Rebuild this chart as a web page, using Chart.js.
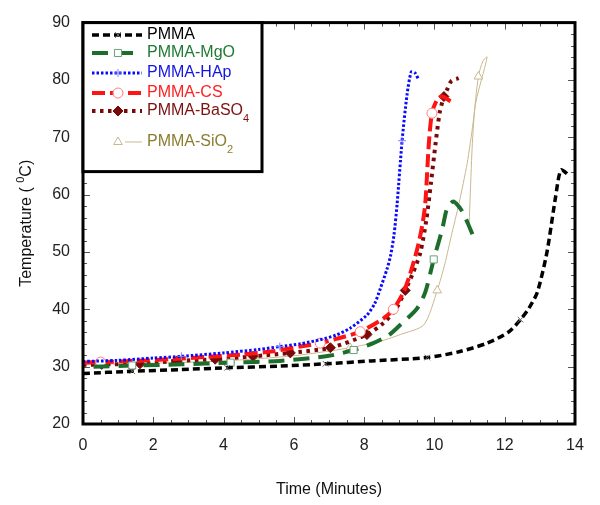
<!DOCTYPE html>
<html>
<head>
<meta charset="utf-8">
<script src="https://cdn.jsdelivr.net/npm/chart.js@4.4.0/dist/chart.umd.min.js"></script>
<style>html,body{margin:0;padding:0;background:#fff;}</style>
</head>
<body>
<canvas id="myChart" width="600" height="505"></canvas>
<script>
// data (time in minutes, temperature in C)
var pmmaX = [0, 1.4, 2.8, 4.1, 5.6, 6.9, 8.2, 9.8, 10.7, 11.5, 12.1, 12.45, 12.7, 12.93, 13.2, 13.45, 13.6, 13.82];
var pmmaY = [28.8, 29.2, 29.5, 29.8, 30.1, 30.5, 31.0, 31.6, 32.6, 34.1, 36.0, 38.2, 40.3, 43.0, 49.9, 59.7, 64.3, 63.4];
var pmmaMarks = [1.4, 4.1, 6.9, 9.8, 12.45];

var mgoX = [0.3, 1.4, 2.8, 4.2, 5.6, 7.0, 7.7, 8.26, 8.7, 9.03, 9.5, 9.74, 9.98, 10.22, 10.36, 10.54, 10.79, 10.95, 11.1];
var mgoY = [30.0, 30.2, 30.4, 30.7, 31.0, 31.9, 32.9, 34.1, 35.5, 37.3, 40.1, 43.0, 48.7, 53.9, 57.6, 58.8, 57.1, 55.0, 52.8];
var mgoMarks = [1.4, 4.2, 7.7, 9.98];

var hapX = [0, 1, 2, 2.8, 4, 5, 5.6, 6.2, 6.75, 7.2, 7.6, 8.08, 8.3, 8.46, 8.65, 8.75, 8.85, 8.94, 9.08, 9.22, 9.34, 9.45, 9.55];
var hapY = [30.9, 31.1, 31.5, 31.8, 32.4, 33.0, 33.5, 34.0, 34.7, 35.5, 36.7, 39.0, 41.0, 43.6, 47.0, 49.3, 53.0, 58.5, 69.4, 77.4, 81.4, 81.2, 80.0];
var hapMarks = [2.8, 5.6, 9.08];

var csX = [0, 0.5, 1.5, 2.5, 3.5, 4.5, 5.42, 6.18, 6.75, 7.3, 7.89, 8.55, 8.83, 9.12, 9.3, 9.51, 9.65, 9.74, 9.84, 9.93, 10.08, 10.22, 10.46];
var csY = [30.7, 30.8, 31.0, 31.3, 31.7, 32.1, 32.7, 33.5, 34.1, 35.0, 36.1, 38.4, 40.0, 43.0, 46.0, 50.5, 54.5, 58.5, 68.8, 74.2, 76.6, 77.1, 76.3];
var csMarks = [0.5, 6.75, 7.89, 8.83, 9.93];

var basoX = [0, 0.53, 1.62, 2.67, 3.76, 4.84, 5.9, 7.04, 8.08, 8.55, 8.9, 9.17, 9.4, 9.6, 9.77, 9.9, 10.03, 10.15, 10.27, 10.36, 10.48, 10.69];
var basoY = [30.3, 30.4, 30.5, 31.0, 31.3, 31.8, 32.4, 33.3, 35.6, 37.6, 40.0, 43.3, 46.5, 49.9, 55.6, 62.0, 68.8, 74.3, 77.1, 78.3, 79.8, 80.3];
var basoMarks = [0.53, 1.62, 2.67, 3.76, 4.84, 5.9, 7.04, 8.08, 9.17, 10.27];

var sioX = [0, 0.5, 2, 4, 6, 7.6, 8.5, 9.03, 9.7, 10.08, 10.3, 10.48, 10.7, 10.93, 11.1, 11.25, 11.38, 11.5, 11.15, 10.98];
var sioY = [30.3, 30.4, 30.6, 31.0, 31.9, 33.3, 34.5, 35.6, 37.3, 43.3, 48.0, 52.8, 58.5, 65.4, 72.5, 80.6, 83.3, 84.0, 75.0, 54.0];
var sioMarks = [0.5, 7.6, 10.08, 11.25];

var xTicks = [0, 2, 4, 6, 8, 10, 12, 14];
var yTicks = [20, 30, 40, 50, 60, 70, 80, 90];

Chart.defaults.font.family = '"Liberation Sans", Arial, sans-serif';

function pts(xs, ys) {
    return xs.map(function (x, i) { return { x: x, y: ys[i] }; });
}
function marker(marks, r) {
    return function (ctx) {
        var p = ctx.raw;
        return p && marks.indexOf(p.x) >= 0 ? r : 0;
    };
}

// line look of each series, used by the chart and by the legend
var series = [
    { label: 'PMMA', sub: '', xs: pmmaX, ys: pmmaY, marks: pmmaMarks, color: '#000000', text: '#000000',
      width: 3.5, dash: [7, 4], point: 'crossRot', r: 4, pBorder: '#666666', pFill: '#666666', row: 35 },
    { label: 'PMMA-MgO', sub: '', xs: mgoX, ys: mgoY, marks: mgoMarks, color: '#1c6e2c', text: '#1f7a33',
      width: 4, dash: [16, 9], point: 'rect', r: 5, pBorder: '#6aa277', pFill: '#ffffff', row: 53 },
    { label: 'PMMA-HAp', sub: '', xs: hapX, ys: hapY, marks: hapMarks, color: '#0a0aff', text: '#1414e6',
      width: 3, dash: [2.5, 2], point: 'cross', r: 4, pBorder: '#8080ff', pFill: '#8080ff', row: 73 },
    { label: 'PMMA-CS', sub: '', xs: csX, ys: csY, marks: csMarks, color: '#ff1414', text: '#ff2020',
      width: 4, dash: [13, 5], point: 'circle', r: 5, pBorder: '#ff8080', pFill: '#ffffff', row: 93 },
    { label: 'PMMA-BaSO', sub: '4', xs: basoX, ys: basoY, marks: basoMarks, color: '#7a0a0a', text: '#7d1010',
      width: 4, dash: [3.5, 4.5], point: 'rectRot', r: 5, pBorder: '#7a0a0a', pFill: '#7a0a0a', row: 111 },
    { label: 'PMMA-SiO', sub: '2', xs: sioX, ys: sioY, marks: sioMarks, color: '#c9b98f', text: '#8c7d2e',
      width: 1, dash: [], point: 'triangle', r: 5, pBorder: '#c9b98f', pFill: '#ffffff', row: 142 }
];

var datasets = series.map(function (s) {
    return {
        label: s.label + s.sub,
        data: pts(s.xs, s.ys),
        showLine: true,
        borderColor: s.color,
        borderWidth: s.width,
        borderDash: s.dash,
        borderCapStyle: 'butt',
        tension: 0.25,
        fill: false,
        pointStyle: s.point,
        pointRadius: marker(s.marks, s.r),
        pointBorderColor: s.pBorder,
        pointBackgroundColor: s.pFill,
        pointBorderWidth: 1
    };
});

var frame = {
    id: 'frame',
    afterDraw: function (chart) {
        var c = chart.ctx, a = chart.chartArea, xs = chart.scales.x, ys = chart.scales.y;
        c.save();
        // inward tick marks
        c.strokeStyle = '#555';
        c.lineWidth = 1;
        c.setLineDash([]);
        c.beginPath();
        for (var t = 0; t <= 14.001; t += 0.5) {
            var px = Math.round(xs.getPixelForValue(t)) + 0.5;
            var L = (t % 2 === 0) ? 7 : 4;
            c.moveTo(px, a.bottom); c.lineTo(px, a.bottom - L);
            c.moveTo(px, a.top); c.lineTo(px, a.top + L);
        }
        for (var v = 20; v <= 90; v += 2) {
            var py = Math.round(ys.getPixelForValue(v)) + 0.5;
            var M = (v % 10 === 0) ? 7 : 4;
            c.moveTo(a.left, py); c.lineTo(a.left + M, py);
            c.moveTo(a.right, py); c.lineTo(a.right - M, py);
        }
        c.stroke();
        // heavy frame
        c.strokeStyle = '#000';
        c.lineWidth = 3;
        c.strokeRect(a.left, a.top, a.right - a.left, a.bottom - a.top);

        // axis titles
        c.fillStyle = '#111';
        c.font = '16px "Liberation Sans", Arial, sans-serif';
        c.textAlign = 'center';
        c.textBaseline = 'middle';
        c.fillText('Time (Minutes)', (a.left + a.right) / 2, 490);

        c.save();
        c.translate(27, (a.top + a.bottom) / 2);
        c.rotate(-Math.PI / 2);
        var p1 = 'Temperature ( ', p2 = '0', p3 = 'C)';
        c.font = '16px "Liberation Sans", Arial, sans-serif';
        var w1 = c.measureText(p1).width, w3 = c.measureText(p3).width;
        c.font = '11px "Liberation Sans", Arial, sans-serif';
        var w2 = c.measureText(p2).width;
        var x0 = -(w1 + w2 + w3) / 2;
        c.textAlign = 'left';
        c.font = '16px "Liberation Sans", Arial, sans-serif';
        c.fillText(p1, x0, 0);
        c.font = '11px "Liberation Sans", Arial, sans-serif';
        c.fillText(p2, x0 + w1, -6);
        c.font = '16px "Liberation Sans", Arial, sans-serif';
        c.fillText(p3, x0 + w1 + w2, 0);
        c.restore();

        // legend box
        var lx = a.left, ly = a.top, lw = 179, lh = 149;
        c.fillStyle = '#fff';
        c.fillRect(lx, ly, lw, lh);
        c.strokeStyle = '#000';
        c.lineWidth = 3;
        c.strokeRect(lx, ly, lw, lh);
        series.forEach(function (s) {
            var y = s.row;
            c.strokeStyle = s.color;
            c.lineWidth = s.width;
            c.setLineDash(s.dash);
            c.lineCap = 'butt';
            c.beginPath();
            if (s.point === 'triangle') {
                c.moveTo(125, y); c.lineTo(142, y);
            } else {
                c.moveTo(92, y); c.lineTo(142, y);
            }
            c.stroke();
            c.setLineDash([]);
            c.fillStyle = s.pFill;
            c.strokeStyle = s.pBorder;
            c.lineWidth = 1;
            Chart.helpers.drawPoint(c, { pointStyle: s.point, radius: s.r, rotation: 0, borderWidth: 1 }, 118, y);
            c.fillStyle = s.text;
            c.textAlign = 'left';
            c.textBaseline = 'middle';
            c.font = '16px "Liberation Sans", Arial, sans-serif';
            c.fillText(s.label, 147, y);
            if (s.sub) {
                var w = c.measureText(s.label).width;
                c.font = '11px "Liberation Sans", Arial, sans-serif';
                c.fillText(s.sub, 147 + w, y + 8);
            }
        });
        c.restore();
    }
};

var ctx = document.getElementById('myChart').getContext('2d');
var myChart = new Chart(ctx, {
    type: 'scatter',
    data: { datasets: datasets },
    options: {
        responsive: false,
        animation: false,
        layout: { padding: { top: 17, right: 25, left: 0, bottom: 0 } },
        plugins: { legend: { display: false }, tooltip: { enabled: false } },
        scales: {
            x: {
                type: 'linear',
                min: 0, max: 14,
                afterFit: function (s) { s.height = 81; },
                afterBuildTicks: function (s) { s.ticks = xTicks.map(function (v) { return { value: v }; }); },
                ticks: { color: '#222', font: { size: 16 }, padding: 12, maxRotation: 0 },
                grid: { display: false, drawTicks: false },
                border: { display: false }
            },
            y: {
                type: 'linear',
                min: 20, max: 90,
                afterFit: function (s) { s.width = 83; },
                afterBuildTicks: function (s) { s.ticks = yTicks.map(function (v) { return { value: v }; }); },
                ticks: { color: '#222', font: { size: 16 }, padding: 13 },
                grid: { display: false, drawTicks: false },
                border: { display: false }
            }
        }
    },
    plugins: [frame]
});
</script>
</body>
</html>
